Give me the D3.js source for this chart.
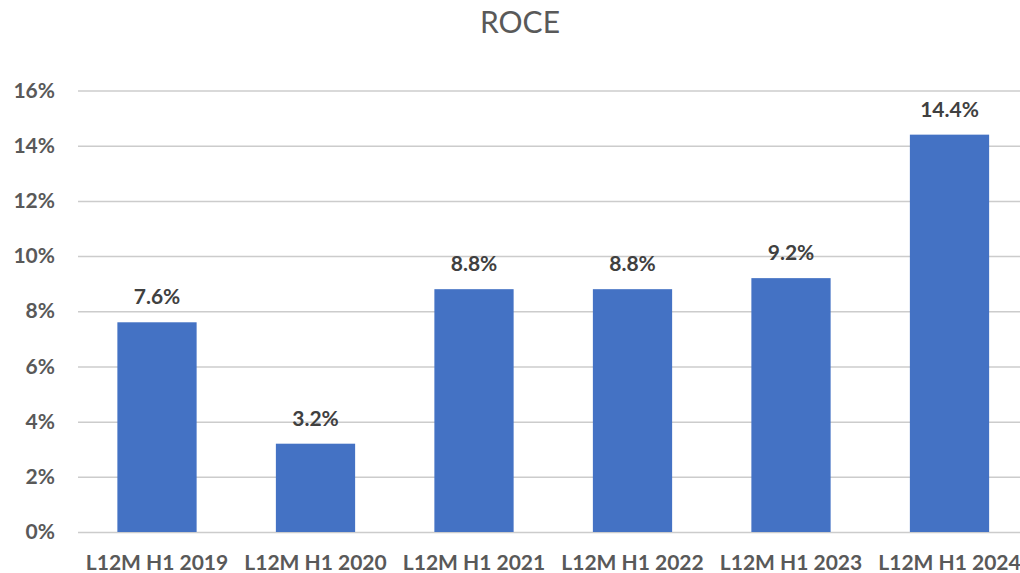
<!DOCTYPE html>
<html><head><meta charset="utf-8">
<script src="https://cdn.jsdelivr.net/npm/d3@7"></script>
<style>body{margin:0;background:#fff}svg{display:block}</style>
</head><body>
<svg id="c" width="1020" height="573"></svg>
<script>
const categories = ["L12M H1 2019","L12M H1 2020","L12M H1 2021","L12M H1 2022","L12M H1 2023","L12M H1 2024"];
const values = [7.6, 3.2, 8.8, 8.8, 9.2, 14.4];
const yTicks = [0, 2, 4, 6, 8, 10, 12, 14, 16];
const title = "ROCE";

const svg = d3.select("#c");
const font = "Lato, 'Open Sans', sans-serif";
const x = d3.scaleBand().domain(categories).range([77.75, 1028.75]).paddingInner(0.5).paddingOuter(0.25);
const y = d3.scaleLinear().domain([0, 16]).range([532, 90.5]);

svg.append("text").attr("x", 520).attr("y", 33).attr("text-anchor", "middle")
  .attr("font-family", font).attr("font-size", 30).attr("fill", "#595959").text(title);

const ya = svg.append("g").attr("transform", "translate(78,0)")
  .call(d3.axisLeft(y).tickValues(yTicks).tickSize(-950).tickPadding(23).tickFormat(d => d + "%"));
ya.select(".domain").remove();
ya.selectAll(".tick line").attr("stroke", "#cccccc").attr("stroke-width", 1.5);
ya.selectAll(".tick text").attr("font-family", font).attr("font-size", 21).attr("font-weight", "bold").attr("fill", "#595959");

svg.append("g").selectAll("rect").data(values).join("rect")
  .attr("x", (d, i) => x(categories[i])).attr("width", x.bandwidth())
  .attr("y", d => y(d)).attr("height", d => y(0) - y(d)).attr("fill", "#4472C4");

const xa = svg.append("g").attr("transform", "translate(0,532)")
  .call(d3.axisBottom(x).tickSize(0).tickPadding(23));
xa.select(".domain").remove();
xa.selectAll(".tick text").attr("font-family", font).attr("font-size", 21).attr("font-weight", "bold").attr("fill", "#595959");

svg.append("g").selectAll("text").data(values).join("text")
  .attr("x", (d, i) => x(categories[i]) + x.bandwidth() / 2).attr("y", d => y(d) - 18)
  .attr("text-anchor", "middle").attr("font-family", font).attr("font-size", 21).attr("font-weight", "bold")
  .attr("fill", "#404040").text(d => d.toFixed(1) + "%");
</script>
</body></html>
